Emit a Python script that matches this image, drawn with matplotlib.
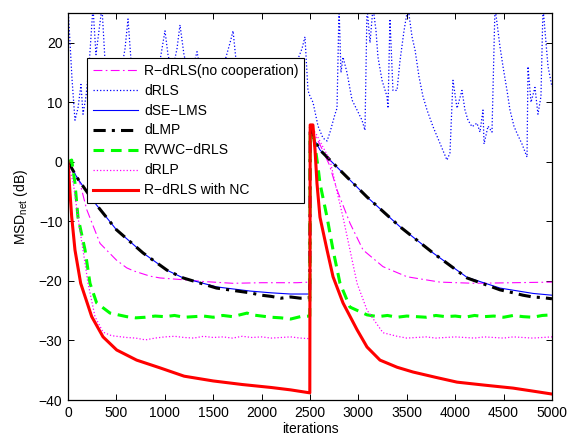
import matplotlib
matplotlib.use("Agg")
import matplotlib.pyplot as plt

plt.rcParams['font.family'] = ['Liberation Sans', 'DejaVu Sans']
plt.rcParams['mathtext.fontset'] = 'custom'
plt.rcParams['mathtext.rm'] = 'Liberation Sans'
plt.rcParams['mathtext.it'] = 'Liberation Sans:italic'

# ---------------- data ----------------
labels = ['R\u2212dRLS(no cooperation)', 'dRLS', 'dSE\u2212LMS', 'dLMP',
          'RVWC\u2212dRLS', 'dRLP', 'R\u2212dRLS with NC']

nocoop_it = [0, 60, 124, 193, 331, 500, 606, 675, 847, 950, 1190, 1400, 1705, 2000, 2365, 2498,
             2502, 2600, 2700, 2779, 2913, 3048, 3254, 3502, 3843, 4200, 4600, 5000]
nocoop_v = [0, -1.5, -3.6, -8.0, -13.7, -16.5, -17.8, -18.3, -19.2, -19.5, -19.8, -20.1, -20.4, -20.3, -20.3, -20.2,
            6.0, 3.0, -0.5, -4.7, -10.3, -14.8, -17.6, -19.3, -20.2, -20.4, -20.3, -20.2]

drls_it = [0, 21, 41, 72, 103, 134, 155, 186, 217, 258, 289, 320, 351, 382, 434, 486, 537, 589, 620, 651,
           713, 795, 868, 930, 971, 1002, 1033, 1074, 1126, 1157, 1198, 1260, 1333, 1384, 1467, 1550, 1622,
           1674, 1705, 1736, 1798, 1880, 1963, 2035, 2107, 2190, 2273, 2345, 2417, 2448, 2479, 2500, 2531,
           2583, 2634, 2676, 2707, 2758, 2779, 2800, 2820, 2841, 2882, 2934, 2986, 3037, 3068, 3089, 3120,
           3151, 3182, 3202, 3244, 3295, 3306, 3326, 3357, 3399, 3430, 3471, 3512, 3554, 3585, 3626, 3667,
           3709, 3771, 3843, 3884, 3915, 3946, 3977, 4019, 4070, 4101, 4132, 4174, 4225, 4256, 4287, 4298,
           4339, 4380, 4411, 4463, 4494, 4535, 4566, 4607, 4638, 4690, 4742, 4752, 4783, 4824, 4855, 4886,
           4907, 4938, 4959, 5000]
drls_v = [26, 20, 14, 7, 9, 13, 8, 11, 16, 26, 18, 22, 26, 17, 12, 10, 14, 19, 24, 17,
          12, 10, 12, 15, 19, 22, 18, 15, 19, 23, 18, 14, 18.5, 14, 11, 13, 17,
          20, 22, 17, 13, 10, 12, 14, 11, 9, 12, 16, 19, 21, 12, 11, 10,
          6, 4, 3.5, 5, 8, 9, 26, 15, 17.6, 15, 10.4, 8.7, 7, 5.3, 26, 20,
          26, 22, 17.6, 13.7, 11, 9, 24, 12, 12, 17, 22, 26, 21, 18.8, 14.3, 11,
          8.7, 5.9, 3.1, 1.5, 0.3, 1.5, 13.7, 9, 12, 8.7, 7, 5.9, 6.5, 5, 8.7, 3,
          6, 5, 26, 19.3, 16, 12, 8.7, 6, 4.8, 3, 0.8, 16, 10, 12.5, 8, 11,
          26, 20, 16, 12.6]

dse_it = [0, 100, 258, 500, 775, 1023, 1190, 1534, 1880, 2100, 2300, 2498,
          2502, 2520, 2603, 2841, 3089, 3430, 3771, 4122, 4463, 4804, 5000]
dse_v = [0, -2.8, -6.5, -11.4, -15.3, -18.2, -19.5, -21.0, -21.7, -22.0, -22.2, -22.2,
         6.0, 4.5, 2.0, -1.9, -5.9, -10.9, -15.3, -19.4, -21.2, -22.1, -22.4]

dlmp_it = [0, 100, 258, 500, 775, 1023, 1190, 1534, 1880, 2000, 2100, 2200, 2300, 2400, 2498,
           2502, 2520, 2603, 2841, 3089, 3430, 3771, 4122, 4463, 4600, 4700, 4804, 4900, 5000]
dlmp_v = [0, -2.8, -6.5, -11.4, -15.3, -18.2, -19.5, -21.2, -22.0, -22.4, -22.6, -22.9, -22.7, -22.9, -22.8,
          6.0, 4.5, 2.0, -1.9, -5.9, -10.9, -15.3, -19.5, -21.5, -22.0, -22.4, -22.7, -22.8, -23.0]

rvwc_it = [0, 38, 72, 103, 176, 227, 296, 434, 606, 700, 800, 900, 1000, 1100, 1200, 1300, 1400, 1500,
           1600, 1700, 1800, 1850, 1900, 2000, 2100, 2200, 2300, 2400, 2498,
           2502, 2540, 2583, 2603, 2676, 2738, 2810, 2913, 3089, 3200, 3300, 3400, 3500, 3600, 3700, 3800,
           3900, 4000, 4100, 4200, 4300, 4400, 4500, 4600, 4700, 4800, 4900, 5000]
rvwc_v = [0, 0.3, -3.6, -9.3, -14.8, -20.4, -23.7, -25.4, -26.0, -26.2, -26.1, -25.9, -26.0, -25.8, -26.1,
          -26.0, -25.9, -26.1, -25.8, -26.0, -25.6, -25.4, -25.7, -25.9, -26.1, -26.2, -26.4, -26.0, -25.9,
          5.0, 4.0, -0.9, -3.6, -9.3, -14.8, -20.4, -24.4, -25.7, -26.0, -25.8, -26.1, -25.9, -26.0, -26.1, -25.8,
          -26.0, -25.9, -26.1, -25.8, -26.0, -25.9, -26.1, -25.8, -26.0, -26.1, -25.8, -25.7]

drlp_it = [0, 55, 103, 155, 207, 279, 362, 450, 606, 700, 800, 900, 1000, 1100, 1200, 1300, 1400, 1500,
           1600, 1700, 1800, 1900, 2000, 2100, 2200, 2300, 2400, 2498,
           2502, 2560, 2650, 2707, 2779, 2841, 2913, 2986, 3089, 3254, 3400, 3500, 3600, 3700, 3800, 3900,
           4000, 4100, 4200, 4300, 4400, 4500, 4600, 4700, 4800, 4900, 5000]
drlp_v = [0, -3.6, -9.3, -14.8, -20.4, -26.0, -28.6, -29.2, -29.5, -29.6, -29.9, -29.6, -29.4, -29.3, -29.5,
          -29.6, -29.3, -29.5, -29.4, -29.6, -29.3, -29.5, -29.4, -29.6, -29.5, -29.4, -29.6, -29.7,
          6.0, 4.8, 2.0, 0.3, -5.0, -9.3, -14.8, -20.4, -24.9, -28.7, -29.3, -29.6, -29.5, -29.4, -29.6, -29.5,
          -29.4, -29.5, -29.6, -29.4, -29.5, -29.6, -29.4, -29.5, -29.6, -29.5, -29.4]

nc_it = [0, 20, 38, 72, 131, 245, 362, 503, 709, 950, 1200, 1500, 1800, 2100, 2300, 2498,
         2502, 2530, 2552, 2572, 2603, 2676, 2738, 2841, 2986, 3089, 3223, 3400, 3564, 3800,
         4019, 4300, 4597, 4800, 5000]
nc_v = [0, -5.0, -9.2, -14.8, -20.4, -26.0, -29.4, -31.6, -33.3, -34.6, -36.0, -36.8, -37.4, -37.9, -38.3, -38.8,
        6.2, 6.2, 2.0, -3.6, -9.3, -14.8, -19.3, -23.7, -28.2, -31.1, -33.3, -34.5, -35.3, -36.2,
        -37.0, -37.5, -38.0, -38.5, -39.0]

xticks = list(range(0, 5001, 500))
yticks = list(range(-40, 21, 10))

# ---------------- figure ----------------
FS = 10
fig = plt.figure(figsize=(5.70, 4.36), dpi=100)
ax = fig.add_axes([68/570, 36/436, 484/570, 387/436])

ax.plot(nocoop_it, nocoop_v, color='#ff00ff', lw=0.8, ls='-.', dashes=(8, 3, 1.5, 3), label=labels[0])
ax.plot(drls_it, drls_v, color='#0000ff', lw=0.9, ls=':', label=labels[1])
ax.plot(dse_it, dse_v, color='#0000ff', lw=0.8, ls='-', label=labels[2])
ax.plot(dlmp_it, dlmp_v, color='black', lw=2.2, ls='-.', dashes=(4, 2, 1, 2), label=labels[3])
ax.plot(rvwc_it, rvwc_v, color='#00ff00', lw=2.2, ls='--', dashes=(3.5, 2.2), label=labels[4])
ax.plot(drlp_it, drlp_v, color='#ff00ff', lw=0.9, ls=':', label=labels[5])
ax.plot(nc_it, nc_v, color='#ff0000', lw=2.2, ls='-', label=labels[6])

ax.set_xlim(0, 5000)
ax.set_ylim(-40, 25)
ax.set_xticks(xticks)
ax.set_yticks(yticks)
ax.tick_params(direction='in', length=4, width=0.7, top=True, right=True, labelsize=FS, pad=4)
for s in ax.spines.values():
    s.set_linewidth(0.9)
ax.set_xlabel('iterations', fontsize=FS, labelpad=2)
ax.set_ylabel(r'MSD$_{\mathrm{net}}$ (dB)', fontsize=FS, labelpad=6)

leg = ax.legend(loc='upper left', bbox_to_anchor=(19/484, (400-58)/387), borderaxespad=0,
                fontsize=FS, handlelength=3.3, handletextpad=0.4, labelspacing=0.43,
                fancybox=False, framealpha=1, edgecolor='black', borderpad=0.4)
leg.get_frame().set_linewidth(0.8)

fig.savefig('out.png', dpi=100)
